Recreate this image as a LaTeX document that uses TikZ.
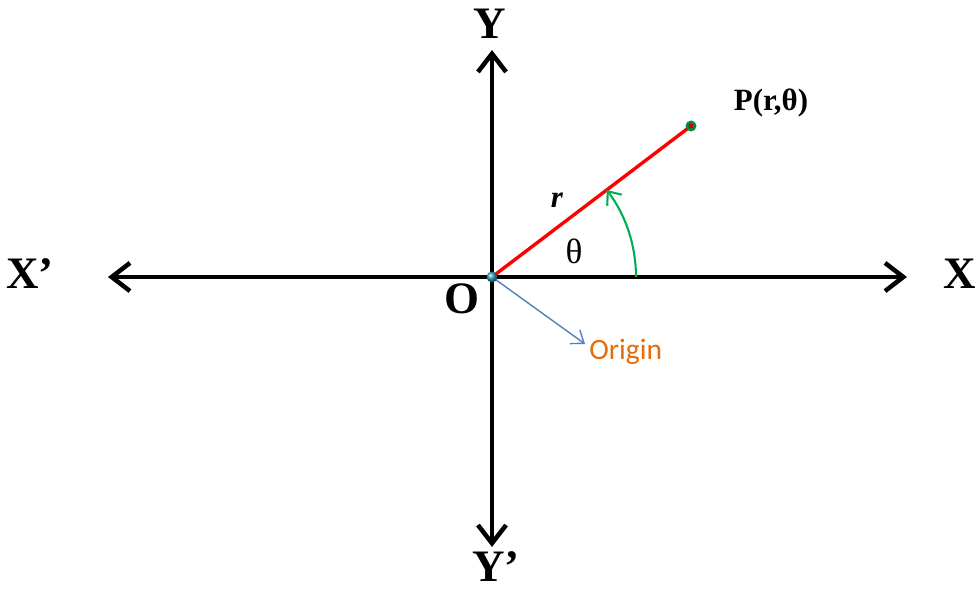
\documentclass[tikz,border=0pt]{standalone}
\usepackage{fontspec}
\setmainfont{Liberation Serif}
\newfontfamily\calibrifont{Carlito}
\usetikzlibrary{positioning}
\usetikzlibrary{arrows.meta}
\usetikzlibrary{calc}

\definecolor{originorange}{RGB}{228,108,10}
\definecolor{originblue}{RGB}{79,129,189}
\definecolor{anglegreen}{RGB}{0,176,80}
\definecolor{dotcyan}{RGB}{49,160,190}

\begin{document}
\begin{tikzpicture}[x=0.025cm, y=0.025cm,
    axis/.style={line width=3.2pt, {Straight Barb[length=13pt,width=20pt,line width=3.2pt]}-{Straight Barb[length=13pt,width=20pt,line width=3.2pt]}},
    axislabel/.style={inner sep=0pt, font=\fontsize{32}{32}\selectfont\bfseries},
    radius line/.style={line width=2.4pt, red},
    angle arc/.style={line width=1.5pt, anglegreen, -{Straight Barb[length=8pt,width=13pt,line width=1.5pt]}},
    pointer/.style={line width=1pt, originblue, -{Straight Barb[length=8pt,width=12pt,line width=1pt]}}]

    \useasboundingbox (0,0) rectangle (979,592);

    % points
    \coordinate (O) at (492,315);
    \coordinate (P) at (691,466);
    \coordinate (xl) at (108,315);
    \coordinate (xr) at (907,315);
    \coordinate (yt) at (492,542);
    \coordinate (yb) at (492,45);
    \coordinate (tip) at (585,248);

    % axes
    \draw[axis] (xl) -- (xr);
    \draw[axis] (yb) -- (yt);

    % radius vector and angle
    \draw[radius line] (O) -- (P);
    \draw[angle arc] ($(O)+(144,0)$) arc[start angle=0, end angle=37.2, radius=144];
    \draw[pointer] (O) -- (tip);

    % dots
    \fill[anglegreen!80!black] (P) circle (5.5);
    \fill[red!80!black] (P) circle (2.5);
    \shade[ball color=dotcyan] (O) circle (5.5);

    % labels
    \node[axislabel] (xlab) at (960,318) {X};
    \node[axislabel] (xplab) at (30,318) {X’};
    \node[axislabel] (ylab) at (490,568) {Y};
    \node[axislabel, anchor=base] (yplab) at (496,11) {Y’};
    \node[axislabel] (olab) at (462,293) {O};
    \node[inner sep=0pt, font=\fontsize{22}{22}\selectfont\bfseries] (plab) at (771,489) {P(r,θ)};
    \node[inner sep=0pt, font=\fontsize{22}{22}\selectfont\bfseries\itshape] (rlab) at (557,392) {r};
    \node[inner sep=0pt, font=\fontsize{25}{25}\selectfont] (thlab) at (574,341) {θ};
    \node[inner sep=0pt, anchor=west, text=originorange, font=\calibrifont\fontsize{21}{21}\selectfont] (orig) at (589,240) {Origin};
\end{tikzpicture}
\end{document}
